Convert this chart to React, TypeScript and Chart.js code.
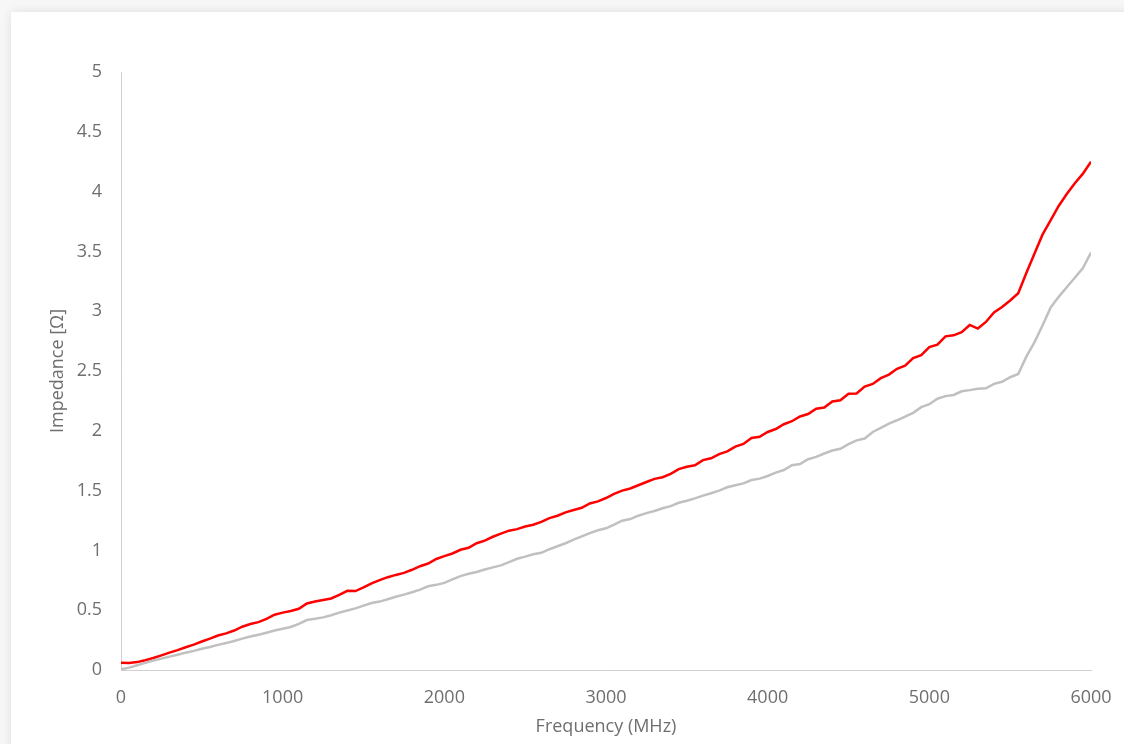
import React, { useEffect, useRef } from "react";
import { Chart, registerables } from "chart.js";

Chart.register(...registerables);

const frequencies: number[] = [
  0, 50, 100, 150, 200, 250, 300, 350, 400, 450, 500, 550, 600, 650, 700, 750, 800, 850, 900, 950,
  1000, 1050, 1100, 1150, 1200, 1250, 1300, 1350, 1400, 1450, 1500, 1550, 1600, 1650, 1700, 1750, 1800, 1850, 1900, 1950,
  2000, 2050, 2100, 2150, 2200, 2250, 2300, 2350, 2400, 2450, 2500, 2550, 2600, 2650, 2700, 2750, 2800, 2850, 2900, 2950,
  3000, 3050, 3100, 3150, 3200, 3250, 3300, 3350, 3400, 3450, 3500, 3550, 3600, 3650, 3700, 3750, 3800, 3850, 3900, 3950,
  4000, 4050, 4100, 4150, 4200, 4250, 4300, 4350, 4400, 4450, 4500, 4550, 4600, 4650, 4700, 4750, 4800, 4850, 4900, 4950,
  5000, 5050, 5100, 5150, 5200, 5250, 5300, 5350, 5400, 5450, 5500, 5550, 5600, 5650, 5700, 5750, 5800, 5850, 5900, 5950,
  6000,
];

const redImpedance: number[] = [
  0.060, 0.058, 0.066, 0.082, 0.100, 0.122, 0.145, 0.166, 0.190, 0.212, 0.238, 0.262, 0.288, 0.306, 0.330, 0.362, 0.385, 0.400, 0.428, 0.462,
  0.480, 0.494, 0.512, 0.556, 0.572, 0.586, 0.598, 0.628, 0.662, 0.660, 0.690, 0.724, 0.752, 0.776, 0.795, 0.812, 0.838, 0.868, 0.890, 0.928,
  0.952, 0.974, 1.005, 1.022, 1.060, 1.082, 1.114, 1.140, 1.165, 1.178, 1.200, 1.215, 1.238, 1.270, 1.290, 1.318, 1.338, 1.356, 1.392, 1.410,
  1.438, 1.472, 1.500, 1.518, 1.545, 1.572, 1.598, 1.612, 1.640, 1.680, 1.700, 1.712, 1.755, 1.770, 1.805, 1.828, 1.868, 1.890, 1.940, 1.950,
  1.990, 2.015, 2.055, 2.080, 2.120, 2.140, 2.185, 2.195, 2.245, 2.255, 2.310, 2.312, 2.370, 2.392, 2.440, 2.470, 2.518, 2.545, 2.608, 2.632,
  2.700, 2.720, 2.790, 2.798, 2.825, 2.885, 2.855, 2.910, 2.990, 3.035, 3.090, 3.150, 3.320, 3.480, 3.640, 3.760, 3.880, 3.980, 4.070, 4.150,
  4.250,
];

const grayImpedance: number[] = [
  0.005, 0.020, 0.040, 0.060, 0.080, 0.095, 0.112, 0.128, 0.145, 0.160, 0.178, 0.192, 0.210, 0.225, 0.242, 0.262, 0.280, 0.295, 0.312, 0.330,
  0.345, 0.360, 0.385, 0.418, 0.428, 0.440, 0.458, 0.480, 0.498, 0.515, 0.538, 0.560, 0.572, 0.592, 0.612, 0.630, 0.650, 0.672, 0.700, 0.712,
  0.728, 0.758, 0.785, 0.805, 0.820, 0.840, 0.858, 0.875, 0.902, 0.930, 0.948, 0.968, 0.980, 1.010, 1.035, 1.060, 1.090, 1.118, 1.145, 1.168,
  1.185, 1.215, 1.248, 1.262, 1.290, 1.312, 1.330, 1.352, 1.370, 1.398, 1.415, 1.435, 1.458, 1.478, 1.500, 1.528, 1.545, 1.560, 1.588, 1.600,
  1.622, 1.650, 1.672, 1.712, 1.722, 1.762, 1.782, 1.810, 1.835, 1.850, 1.888, 1.920, 1.935, 1.990, 2.025, 2.060, 2.088, 2.118, 2.150, 2.198,
  2.222, 2.268, 2.290, 2.300, 2.330, 2.340, 2.352, 2.355, 2.392, 2.410, 2.448, 2.475, 2.620, 2.740, 2.880, 3.030, 3.120, 3.200, 3.280, 3.360,
  3.490,
];

const X_MIN = 0;
const X_MAX = 6000;
const X_STEP = 1000;
const Y_MIN = 0;
const Y_MAX = 5;
const Y_STEP = 0.5;

const X_TITLE = "Frequency (MHz)";
const Y_TITLE = "Impedance [Ω]";

const FONT_FAMILY = "'Open Sans', 'Liberation Sans', sans-serif";
const TEXT_COLOR = "#6f6f6f";
const AXIS_COLOR = "#d0d0d0";

export default function App() {
  const canvasRef = useRef<HTMLCanvasElement | null>(null);

  useEffect(() => {
    const canvas = canvasRef.current;
    if (!canvas) return;
    const redPoints = frequencies.map((f, i) => ({ x: f, y: redImpedance[i] }));
    const grayPoints = frequencies.map((f, i) => ({ x: f, y: grayImpedance[i] }));

    const chart = new Chart(canvas, {
      type: "line",
      data: {
        datasets: [
          {
            label: "Gray",
            data: grayPoints,
            borderColor: "#c0c0c0",
            borderWidth: 2.5,
            pointRadius: 0,
            tension: 0,
            fill: false,
          },
          {
            label: "Red",
            data: redPoints,
            borderColor: "#ff0000",
            borderWidth: 2.5,
            pointRadius: 0,
            tension: 0,
            fill: false,
          },
        ],
      },
      options: {
        animation: false,
        responsive: false,
        devicePixelRatio: 1,
        layout: { padding: { top: 72, right: 33, left: 0, bottom: 0 } },
        plugins: {
          legend: { display: false },
          tooltip: { enabled: false },
          title: { display: false },
        },
        scales: {
          x: {
            type: "linear",
            min: X_MIN,
            max: X_MAX,
            grid: { display: true, color: "transparent", drawTicks: false },
            border: { display: true, color: AXIS_COLOR, width: 1 },
            ticks: {
              stepSize: X_STEP,
              padding: 17,
              color: TEXT_COLOR,
              font: { family: FONT_FAMILY, size: 18 },
              maxRotation: 0,
              callback: (v: any) => String(v),
            },
            title: {
              display: true,
              text: X_TITLE,
              color: TEXT_COLOR,
              font: { family: FONT_FAMILY, size: 18 },
              padding: { top: 0, bottom: 6 },
            },
            afterFit: (scale: any) => {
              scale.height = 74;
              scale.paddingLeft = 0;
              scale.paddingRight = 0;
            },
          },
          y: {
            type: "linear",
            min: Y_MIN,
            max: Y_MAX,
            grid: { display: true, color: "transparent", drawTicks: false },
            border: { display: true, color: AXIS_COLOR, width: 1 },
            ticks: {
              stepSize: Y_STEP,
              padding: 19,
              color: TEXT_COLOR,
              font: { family: FONT_FAMILY, size: 18 },
              callback: (v: any) => String(v),
            },
            title: {
              display: true,
              text: Y_TITLE,
              color: TEXT_COLOR,
              font: { family: FONT_FAMILY, size: 18 },
              padding: { top: 47, bottom: 0 },
            },
            afterFit: (scale: any) => {
              scale.width = 121;
              scale.paddingTop = 0;
              scale.paddingBottom = 0;
            },
          },
        },
      },
    });
    return () => chart.destroy();
  }, []);

  return (
    <div style={{ position: "fixed", left: 0, top: 0, width: 1124, height: 744, background: "#f7f7f7", overflow: "hidden" }}>
      <div
        style={{
          position: "absolute",
          left: 11,
          top: 12,
          width: 1140,
          height: 760,
          background: "#ffffff",
          boxShadow: "0 0 10px rgba(0,0,0,0.10)",
        }}
      />
      <canvas
        ref={canvasRef}
        width={1124}
        height={744}
        style={{ position: "absolute", left: 0, top: 0, width: 1124, height: 744 }}
      />
    </div>
  );
}
